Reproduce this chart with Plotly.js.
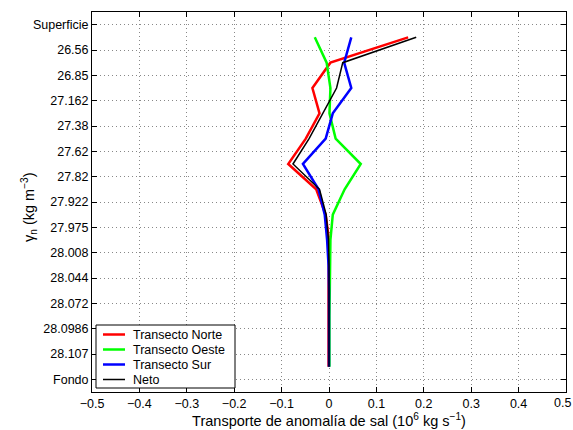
<!DOCTYPE html>
<html>
<head>
<meta charset="utf-8">
<script src="https://cdn.plot.ly/plotly-3.0.1.min.js"></script>
<style>html,body{margin:0;padding:0;background:#fff;}#chart{width:573px;height:430px;}</style>
</head>
<body>
<div id="chart"></div>
<script>
// Density levels (layer boundaries), top to bottom
const levels = ["Superficie","26.56","26.85","27.162","27.38","27.62","27.82","27.922","27.975","28.008","28.044","28.072","28.0986","28.107","Fondo"];
// Layer index (between level i and i+1)
const layers = [0,1,2,3,4,5,6,7,8,9,10,11,12,13];

const norte = [0.167, 0.003, -0.035, -0.020, -0.049, -0.086, -0.027, -0.007, 0.000, -0.001, -0.001, -0.001, -0.001, -0.001];
const oeste = [-0.030, -0.005, 0.003, 0.001, 0.014, 0.067, 0.033, 0.008, 0.003, 0.002, 0.001, 0.001, 0.001, 0.001];
const sur   = [0.047, 0.032, 0.047, 0.008, -0.007, -0.055, -0.022, -0.009, -0.004, -0.001, 0.000, 0.000, 0.000, 0.000];
const neto  = [0.184, 0.029, 0.016, -0.013, -0.042, -0.076, -0.020, -0.006, -0.001, 0.000, 0.000, 0.000, 0.000, 0.000];

const xTickVals = [-0.5,-0.4,-0.3,-0.2,-0.1,0,0.1,0.2,0.3,0.4,0.5];

const seriesNames = ["Transecto Norte","Transecto Oeste","Transecto Sur","Neto"];
const seriesColors = ["#ff0000","#00ff00","#0000ff","#000000"];
const seriesWidths = [2.5, 2.5, 2.5, 1.5];
const seriesData = [norte, oeste, sur, neto];

const yMid = layers.map(i => i + 0.5);

const traces = seriesData.map((d, k) => ({
  x: d, y: yMid, type: 'scatter', mode: 'lines',
  name: seriesNames[k],
  line: {color: seriesColors[k], width: seriesWidths[k]}
}));

const FAM = 'Liberation Sans, Arial, Helvetica, sans-serif';
const font = {family: FAM, size: 12.5, color: '#000'};

// Plot area geometry in pixels
const L = 92, R = 7, T = 12, B = 38, W = 573, H = 430;
const pw = W - L - R, ph = H - T - B;
const px = v => (v - L) / pw;
const py = v => (T + ph - v) / ph;

// Hand-built legend (Matlab style compact box)
const shapes = [{
  type: 'rect', xref: 'paper', yref: 'paper',
  x0: px(96), x1: px(235), y0: py(388), y1: py(325),
  line: {color: '#000', width: 1}, fillcolor: '#fff', layer: 'above'
}];
const annotations = [];
const rowY = [334.5, 349.5, 364.5, 379.5];
seriesNames.forEach((n, k) => {
  shapes.push({
    type: 'line', xref: 'paper', yref: 'paper',
    x0: px(103), x1: px(125), y0: py(rowY[k]), y1: py(rowY[k]),
    line: {color: seriesColors[k], width: seriesWidths[k]}, layer: 'above'
  });
  annotations.push({
    xref: 'paper', yref: 'paper', x: px(131), y: py(rowY[k]),
    xanchor: 'left', yanchor: 'middle', showarrow: false,
    text: n, font: {family: FAM, size: 12.5, color: '#000'}
  });
});
// y axis title
annotations.push({
  xref: 'paper', yref: 'paper', x: px(29), y: py(207),
  xanchor: 'center', yanchor: 'middle', showarrow: false, textangle: -90,
  text: 'γ<sub>n</sub> (kg m<sup>−3</sup>)', font: {family: FAM, size: 14.5, color: '#000'}
});
// last x tick label (at the page edge in the reference), kept fully visible
annotations.push({
  xref: 'paper', yref: 'paper', x: px(W), y: py(403),
  xanchor: 'right', yanchor: 'middle', showarrow: false,
  text: String(xTickVals[xTickVals.length - 1]), font: {family: FAM, size: 12.5, color: '#000'}
});

const layout = {
  width: W, height: H,
  margin: {l: L, r: R, t: T, b: B, pad: 0},
  paper_bgcolor: '#fff', plot_bgcolor: '#fff',
  font: font,
  showlegend: false,
  shapes: shapes,
  annotations: annotations,
  xaxis: {
    range: [-0.5, 0.5], tickmode: 'array', tickvals: xTickVals.slice(0, -1),
    ticktext: xTickVals.slice(0, -1).map(v => v === 0 ? '0' : (v < 0 ? '−' + Math.abs(v) : String(v))),
    ticks: 'inside', ticklen: 5, tickcolor: '#000',
    showline: true, linecolor: '#000', linewidth: 1, mirror: 'ticks',
    showgrid: true, gridcolor: '#888', griddash: '1px,3px', gridwidth: 1,
    zeroline: false,
    title: {text: 'Transporte de anomalía de sal (10<sup>6</sup> kg s<sup>−1</sup>)', font: {family: FAM, size: 14.5}, standoff: 3},
    tickfont: {family: FAM, size: 12.5}
  },
  yaxis: {
    range: [14.5, -0.5],
    tickmode: 'array', tickvals: levels.map((_, i) => i), ticktext: levels,
    ticks: 'inside', ticklen: 5, tickcolor: '#000',
    showline: true, linecolor: '#000', linewidth: 1, mirror: 'ticks',
    showgrid: true, gridcolor: '#888', griddash: '1px,3px', gridwidth: 1,
    zeroline: false,
    tickfont: {family: FAM, size: 12.5}
  }
};

Plotly.newPlot('chart', traces, layout, {displayModeBar: false, staticPlot: true});
</script>
</body>
</html>
